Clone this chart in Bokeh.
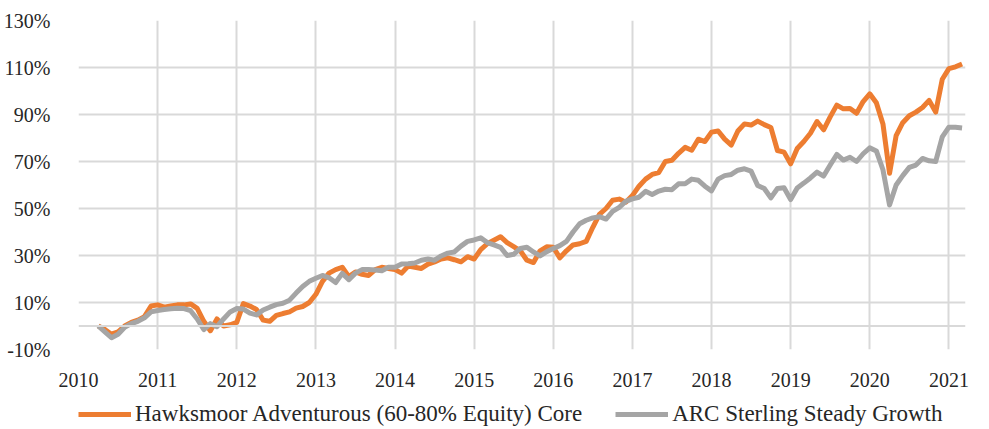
import pandas as pd
from bokeh.plotting import figure
from bokeh.layouts import column
from bokeh.models import (Legend, LegendItem, FixedTicker, PrintfTickFormatter,
                          Span, Range1d)
from bokeh.embed import file_html
from bokeh.resources import INLINE

# Monthly observations, April 2010 to March 2021 (cumulative return, %)
months = pd.date_range("2010-04-01", "2021-03-01", freq="MS")

hawksmoor = [
    0, -1.5, -3.5, -2.5, 0, 1.5, 2.5, 4, 8.5,                     # 2010
    9, 8, 8.5, 9, 9, 9.4, 7.5, 2, -2, 3, 0, 0.5,                  # 2011
    1.5, 9.5, 8.5, 7, 2.5, 2, 4.5, 5.3, 6, 7.6, 8.3, 10,          # 2012
    13.5, 19, 22.5, 24, 25, 21, 23, 22, 21.5, 24, 25, 24.5,       # 2013
    24, 22.5, 25.5, 25, 24.5, 26.3, 27.3, 28.5, 29, 28.2, 27.3, 29.5,  # 2014
    28.5, 32.5, 35, 36.5, 38, 35.5, 33.8, 32, 28, 27, 32, 33.7,   # 2015
    33.5, 29, 32, 34.5, 35, 36, 42, 47.5, 50, 53.5, 54, 52.7,     # 2016
    55.5, 59.5, 62.5, 64.5, 65.3, 70, 70.5, 73.5, 76, 74.8, 79.5, 78.5,  # 2017
    82.5, 83, 79.5, 77, 83, 86, 85.5, 87.2, 85.7, 84.5, 74.7, 74,  # 2018
    69, 75.5, 78.5, 82, 87, 83.5, 89, 94, 92.4, 92.6, 90.5, 95.5,  # 2019
    98.8, 95, 86, 65, 81, 86.5, 89.5, 91, 93, 96, 91, 105,        # 2020
    109.5, 110.3, 111.5,                                          # 2021
]

arc = [
    0, -2.5, -5, -3.5, -0.5, 1, 2, 3.5, 6,                        # 2010
    6.6, 7, 7.3, 7.6, 7.4, 6.5, 3, -1.5, 1, -0.3, 3, 6,           # 2011
    7.4, 7.2, 5.5, 4.7, 6.8, 8, 9.1, 9.7, 11, 14, 16.8, 19,       # 2012
    20.3, 21.5, 20.5, 18.5, 22.4, 19.7, 22.5, 24, 24, 23.8, 23.5, 25,  # 2013
    25, 26.4, 26.5, 26.8, 28, 28.5, 28, 29.8, 31, 31.5, 34, 36,   # 2014
    36.6, 37.5, 35.5, 34.5, 33.5, 30, 30.5, 33, 33.5, 31.5, 29.8, 31.6,  # 2015
    33, 34.2, 36, 40, 43.5, 45, 46, 46.5, 45.5, 48.8, 50.5, 53,   # 2016
    54.1, 54.8, 57.3, 56, 57.4, 58.2, 58, 60.5, 60.5, 62.5, 62, 59.5,  # 2017
    57.5, 62.5, 64, 64.5, 66.3, 66.9, 65.9, 59.8, 58.5, 54.5, 58.5, 58.8,  # 2018
    53.8, 58.7, 60.8, 63, 65.5, 63.8, 68.5, 73, 70.6, 71.8, 70, 73.3,  # 2019
    75.8, 74.5, 66.5, 51.5, 60, 64, 67.5, 68.5, 71.3, 70.3, 70, 80.5,  # 2020
    84.6, 84.6, 84.3,                                             # 2021
]

year_ticks = [2010, 2011, 2012, 2013, 2014, 2015, 2016, 2017, 2018, 2019, 2020, 2021]
pct_ticks = [-10, 10, 30, 50, 70, 90, 110, 130]

series_names = ["Hawksmoor Adventurous (60-80% Equity) Core", "ARC Sterling Steady Growth"]
series_colors = ["#ED7D31", "#A5A5A5"]

x = [m.year + (m.month - 1) / 12 for m in months]

FONT = "Liberation Serif"
TEXT = "#262626"
GRID = "#d9d9d9"

p = figure(width=975, height=401, output_backend="svg", toolbar_location=None,
           x_range=Range1d(2010, 2021.21), y_range=Range1d(-10, 130),
           min_border_left=78, min_border_right=10, min_border_top=20,
           min_border_bottom=52)
p.outline_line_color = None
p.background_fill_color = "white"
p.border_fill_color = "white"

p.xaxis.ticker = FixedTicker(ticks=year_ticks)
p.yaxis.ticker = FixedTicker(ticks=pct_ticks)
p.yaxis.formatter = PrintfTickFormatter(format="%d%%")
for ax in (p.xaxis, p.yaxis):
    ax.axis_line_color = None
    ax.major_tick_line_color = None
    ax.minor_tick_line_color = None
    ax.major_label_text_font = FONT
    ax.major_label_text_font_size = "20px"
    ax.major_label_text_color = TEXT
p.yaxis.major_label_standoff = 22
p.xaxis.major_label_standoff = 17

p.xgrid.grid_line_color = GRID
p.xgrid.grid_line_width = 2
p.ygrid.grid_line_color = GRID
p.ygrid.grid_line_width = 2
p.add_layout(Span(location=0, dimension="width", line_color=GRID, line_width=2))

p.line(x, hawksmoor, line_color=series_colors[0], line_width=5, line_join="round")
p.line(x, arc, line_color=series_colors[1], line_width=5, line_join="round")

# Legend strip below the chart (its own small figure, so nothing is clipped)
lf = figure(width=975, height=28, output_backend="svg", toolbar_location=None,
            x_axis_type=None, y_axis_type=None,
            x_range=Range1d(0, 1), y_range=Range1d(1000, 1001),
            min_border=0, min_border_left=0, min_border_right=0,
            min_border_top=0, min_border_bottom=0)
lf.outline_line_color = None
lf.xgrid.visible = False
lf.ygrid.visible = False
l1 = lf.line(x, hawksmoor, line_color=series_colors[0], line_width=5)
l2 = lf.line(x, arc, line_color=series_colors[1], line_width=5)

legend = Legend(items=[LegendItem(label=series_names[0], renderers=[l1]),
                       LegendItem(label=series_names[1], renderers=[l2])],
                orientation="horizontal", location=(0, 2),
                label_text_font=FONT, label_text_font_size="23px",
                label_text_color=TEXT, glyph_width=53, glyph_height=24,
                label_height=24, label_standoff=4, spacing=33, padding=0,
                margin=0, border_line_color=None, background_fill_alpha=0)
lf.add_layout(legend, "center")

open("out.html", "w").write(file_html(column(p, lf, spacing=0), INLINE))
